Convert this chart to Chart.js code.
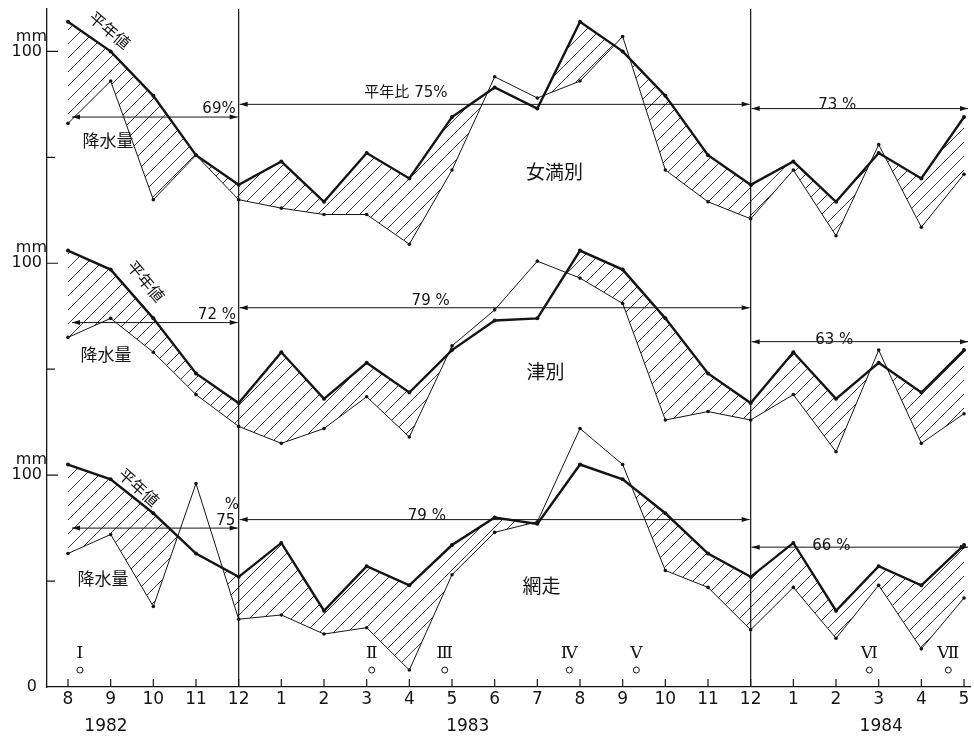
<!DOCTYPE html>
<html lang="ja">
<head>
<meta charset="utf-8">
<title>降水量と平年値</title>
<script src="https://cdn.jsdelivr.net/npm/chart.js@4.4.1/dist/chart.umd.min.js"></script>
<style>
  html, body { margin: 0; padding: 0; background: #fff; }
  canvas { display: block; }
</style>
</head>
<body>
<canvas id="myChart" width="974" height="740"></canvas>
<script>
// 月 (1982年8月 〜 1984年5月)
const months = ['8', '9', '10', '11', '12', '1', '2', '3', '4', '5', '6', '7', '8', '9', '10', '11', '12', '1', '2', '3', '4', '5'];
const years = ['1982', '1983', '1984'];
const yearAt = [0.89, 9.37, 19.06];

// 女満別 (mm)
const memanbetsuNormal = [114, 100, 79, 51, 37, 48, 29, 52, 40, 69, 83, 73, 114, 100, 79, 51, 37, 48, 29, 52, 40, 69];
const memanbetsuRain = [66, 86, 30, 51, 30, 26, 23, 23, 9, 44, 88, 78, 86, 107, 44, 29, 21, 44, 13, 56, 17, 42];
const memanbetsuRatio = [69, 75, 73];

// 津別 (mm)
const tsubetsuNormal = [106, 97, 74, 48, 34, 58, 36, 53, 39, 59, 73, 74, 106, 97, 74, 48, 34, 58, 36, 53, 39, 59];
const tsubetsuRain = [65, 74, 58, 38, 23, 15, 22, 37, 18, 61, 78, 101, 93, 81, 26, 30, 26, 38, 11, 59, 15, 29];
const tsubetsuRatio = [72, 79, 63];

// 網走 (mm)
const abashiriNormal = [105, 98, 82, 63, 52, 68, 36, 57, 48, 67, 80, 77, 105, 98, 82, 63, 52, 68, 36, 57, 48, 67];
const abashiriRain = [63, 72, 38, 96, 32, 34, 25, 28, 8, 53, 73, 78, 122, 105, 55, 47, 27, 47, 23, 48, 18, 42];
const abashiriRatio = [75, 79, 66];

// 平年比の期間 (月の位置)
const periods = [[0, 4], [4, 16], [16, 21]];

// 調査時期
const surveyNames = ['Ⅰ', 'Ⅱ', 'Ⅲ', 'Ⅳ', 'Ⅴ', 'Ⅵ', 'Ⅶ'];
const surveyAt = [0.28, 7.12, 8.83, 11.75, 13.32, 18.78, 20.63];

const ink = '#141414';
const jp = '"Noto Sans CJK JP", sans-serif';
const num = '"DejaVu Sans", "Noto Sans CJK JP", sans-serif';
const roman = '"DejaVu Serif", "Liberation Serif", serif';

// 各地点は 100 mm ずつずらして重ねる
const stations = [
  { name: '女満別', normal: memanbetsuNormal, rain: memanbetsuRain, ratio: memanbetsuRatio, base: 200,
    nameAt: [11.4, 43], rainAt: [0.94, 58], normalAt: [0.98, 110, 40],
    ratioAt: [[3.54, 72.6], [7.92, 80.2], [18.03, 74.5]], ratioFmt: ['{}%', '平年比 {}%', '{} %'] },
  { name: '津別', normal: tsubetsuNormal, rain: tsubetsuRain, ratio: tsubetsuRatio, base: 100,
    nameAt: [11.19, 48.6], rainAt: [0.89, 57], normalAt: [1.83, 91.5, 50],
    ratioAt: [[3.49, 75.5], [8.5, 82], [17.96, 63.7]], ratioFmt: ['{} %', '{} %', '{} %'] },
  { name: '網走', normal: abashiriNormal, rain: abashiriRain, ratio: abashiriRatio, base: 0,
    nameAt: [11.1, 47.6], rainAt: [0.82, 51.4], normalAt: [1.66, 94.3, 42],
    ratioAt: [[3.70, 78.3], [8.41, 80.7], [17.89, 66.5]], ratioFmt: ['{}', '{} %', '{} %'],
    extra: [['%', 3.84, 85.8]] }
];

const canvas = document.getElementById('myChart');
const ctx = canvas.getContext('2d');

// 斜線のハッチング
function makeHatch() {
  const c = document.createElement('canvas');
  c.width = c.height = 14;
  const g = c.getContext('2d');
  g.strokeStyle = '#262626';
  g.lineWidth = 0.9;
  g.beginPath();
  g.moveTo(0, 14); g.lineTo(14, 0);
  g.moveTo(-2, 2); g.lineTo(2, -2);
  g.moveTo(12, 16); g.lineTo(16, 12);
  g.stroke();
  return ctx.createPattern(c, 'repeat');
}
const hatch = makeHatch();

const datasets = [];
stations.forEach(st => {
  const rainIndex = datasets.length;
  datasets.push({
    label: st.name + ' 降水量',
    data: st.rain.map((v, i) => ({ x: i, y: v + st.base })),
    borderColor: ink,
    borderWidth: 1,
    pointRadius: 1.8,
    pointBorderWidth: 0,
    pointBackgroundColor: ink,
    fill: false
  });
  datasets.push({
    label: st.name + ' 平年値',
    data: st.normal.map((v, i) => ({ x: i, y: v + st.base })),
    borderColor: ink,
    borderWidth: 2.4,
    pointRadius: 2,
    pointBorderWidth: 0,
    pointBackgroundColor: ink,
    // 平年値を下回った部分だけ斜線
    fill: { target: rainIndex, above: hatch, below: 'rgba(0,0,0,0)' }
  });
});

function text(c, str, px, py, font, angle) {
  c.save();
  c.translate(px, py);
  if (angle) c.rotate(angle * Math.PI / 180);
  c.font = font;
  c.textAlign = 'center';
  c.textBaseline = 'middle';
  c.fillText(str, 0, 0);
  c.restore();
}

function arrow(c, x1, x2, py) {
  c.lineWidth = 1;
  c.beginPath();
  c.moveTo(x1, py);
  c.lineTo(x2, py);
  c.stroke();
  [[x1, 1], [x2, -1]].forEach(([px, d]) => {
    c.beginPath();
    c.moveTo(px, py);
    c.lineTo(px + d * 8, py - 2.5);
    c.lineTo(px + d * 8, py + 2.5);
    c.closePath();
    c.fill();
  });
}

const annotate = {
  id: 'annotate',
  afterDraw(chart) {
    const { ctx: c, chartArea: a, scales: { x, y } } = chart;
    c.save();
    c.strokeStyle = ink;
    c.fillStyle = ink;

    // 内向きの目盛り
    c.lineWidth = 1.2;
    c.beginPath();
    months.forEach((m, i) => {
      const px = x.getPixelForValue(i);
      c.moveTo(px, a.bottom);
      c.lineTo(px, a.bottom - 8);
    });
    for (let v = 50; v <= 300; v += 50) {
      const py = y.getPixelForValue(v);
      c.moveTo(a.left, py);
      c.lineTo(a.left + (v % 100 ? 8 : 11), py);
    }
    c.stroke();

    // 縦軸の数字
    c.font = '16px ' + num;
    c.textAlign = 'right';
    c.textBaseline = 'middle';
    c.fillText('0', 37, y.getPixelForValue(0));
    [100, 200, 300].forEach(v => {
      const py = y.getPixelForValue(v);
      c.fillText('100', 42, py);
      c.fillText('mm', 47, py - 15);
    });

    // 12月の区切り線
    c.lineWidth = 1.2;
    c.beginPath();
    [4, 16].forEach(i => {
      const px = x.getPixelForValue(i);
      c.moveTo(px, a.top);
      c.lineTo(px, a.bottom);
    });
    c.stroke();

    stations.forEach(st => {
      // 平年比の矢印
      periods.forEach((p, k) => {
        const py = y.getPixelForValue(st.ratio[k] + st.base);
        const x1 = x.getPixelForValue(p[0]) + (p[0] === 0 ? 4 : 1);
        const x2 = x.getPixelForValue(p[1]) + (p[1] === months.length - 1 ? 4 : -1);
        arrow(c, x1, x2, py);
        const [lx, ly] = st.ratioAt[k];
        text(c, st.ratioFmt[k].replace('{}', st.ratio[k]), x.getPixelForValue(lx), y.getPixelForValue(ly + st.base), '15px ' + num);
      });
      (st.extra || []).forEach(([s, lx, ly]) => {
        text(c, s, x.getPixelForValue(lx), y.getPixelForValue(ly + st.base), '15px ' + num);
      });

      text(c, st.name, x.getPixelForValue(st.nameAt[0]), y.getPixelForValue(st.nameAt[1] + st.base), '19px ' + jp);
      text(c, '降水量', x.getPixelForValue(st.rainAt[0]), y.getPixelForValue(st.rainAt[1] + st.base), '17px ' + jp);
      text(c, '平年値', x.getPixelForValue(st.normalAt[0]), y.getPixelForValue(st.normalAt[1] + st.base), '16px ' + jp, st.normalAt[2]);
    });

    // 調査時期
    surveyNames.forEach((s, i) => {
      const px = x.getPixelForValue(surveyAt[i]);
      text(c, s, px, y.getPixelForValue(16), '17px ' + roman);
      c.lineWidth = 1;
      c.beginPath();
      c.arc(px, y.getPixelForValue(8), 3, 0, Math.PI * 2);
      c.stroke();
    });

    // 年
    years.forEach((s, i) => {
      text(c, s, x.getPixelForValue(yearAt[i]), a.bottom + 40, '17px ' + num);
    });
    c.restore();
  }
};

new Chart(ctx, {
  type: 'line',
  data: { datasets },
  options: {
    responsive: false,
    animation: false,
    layout: { padding: { top: 9, right: 3, left: 0, bottom: 0 } },
    plugins: { legend: { display: false }, tooltip: { enabled: false } },
    elements: { line: { tension: 0 } },
    scales: {
      x: {
        type: 'linear',
        min: -0.492,
        max: 21.14,
        grid: { display: false, drawTicks: false },
        border: { color: ink, width: 1.3 },
        afterBuildTicks: s => { s.ticks = months.map((m, i) => ({ value: i })); },
        ticks: {
          callback: v => months[v],
          font: { family: num, size: 17 },
          color: ink,
          padding: 2,
          maxRotation: 0,
          autoSkip: false
        },
        afterFit: s => { s.height = 53; }
      },
      y: {
        min: 0,
        max: 320,
        grid: { display: false, drawTicks: false },
        border: { color: ink, width: 1.3 },
        ticks: { display: false },
        afterFit: s => { s.width = 47; }
      }
    }
  },
  plugins: [annotate]
});
</script>
</body>
</html>
